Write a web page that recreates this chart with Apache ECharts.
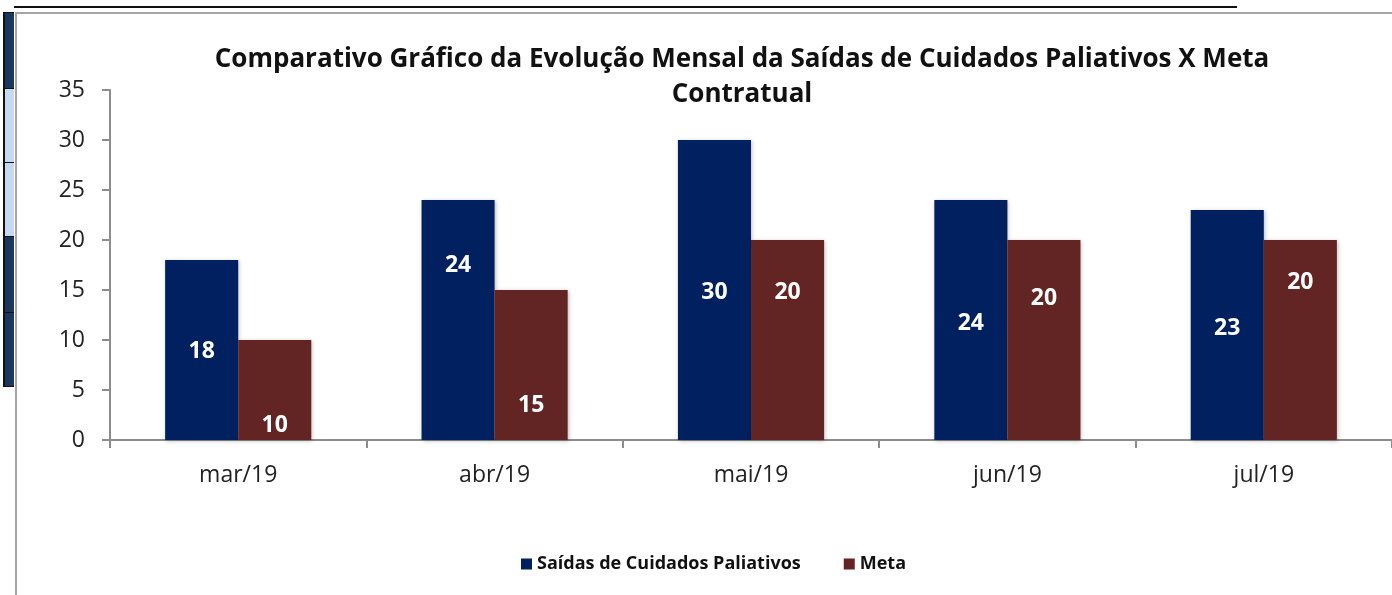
<!DOCTYPE html>
<html>
<head>
<meta charset="utf-8">
<script src="https://cdn.jsdelivr.net/npm/echarts@6/dist/echarts.min.js"></script>
<style>
  html, body { margin: 0; padding: 0; background: #fff; }
  #wrap { position: relative; width: 1392px; height: 595px; overflow: hidden; }
  #topline { position: absolute; left: 14px; top: 6px; width: 1223px; height: 2px; background: #111; }
  #frame { position: absolute; left: 15px; top: 12px; width: 1400px; height: 600px; border: 2px solid #a6a6a6; box-sizing: border-box; }
  .side { position: absolute; left: 3px; width: 9px; border-left: 2px solid #111; border-top: 1px solid #111; }
  #chart { position: absolute; left: 0; top: 0; width: 1392px; height: 595px; }
</style>
</head>
<body>
<div id="wrap">
  <div id="topline"></div>
  <div class="side" style="top:12px;height:76px;background:#1b365f;"></div>
  <div class="side" style="top:88px;height:74px;background:#c6d9ef;"></div>
  <div class="side" style="top:162px;height:74px;background:#c6d9ef;"></div>
  <div class="side" style="top:236px;height:76px;background:#1b365f;"></div>
  <div class="side" style="top:312px;height:73px;background:#1b365f;border-bottom:1px solid #111;"></div>
  <div id="frame"></div>
  <div id="chart"></div>
</div>
<script>
// dados do gráfico
const meses = ['mar/19', 'abr/19', 'mai/19', 'jun/19', 'jul/19']
const saidas = [18, 24, 30, 24, 23]
const meta = [10, 15, 20, 20, 20]

// deslocamento vertical dos rótulos (igual ao original do Excel)
const offSaidas = [1, -55, 2, 3, 3]
const offMeta = [35, 40, -48, -42, -58]

const chart = echarts.init(document.getElementById('chart'))

const labelBase = {
  show: true,
  position: 'inside',
  color: '#fff',
  fontWeight: 'bold',
  fontSize: 23,
  fontFamily: 'Open Sans'
}

const option = {
  animation: false,
  title: {
    text: 'Comparativo Gráfico da Evolução Mensal da Saídas de Cuidados Paliativos X Meta\nContratual',
    left: 737,
    textAlign: 'center',
    top: 37,
    textStyle: {
      fontFamily: 'Open Sans',
      fontWeight: 'bold',
      fontSize: 26,
      lineHeight: 35,
      color: '#111'
    }
  },
  legend: {
    top: 550,
    left: 516,
    itemWidth: 11,
    itemHeight: 11,
    itemGap: 43,
    icon: 'rect',
    textStyle: {
      fontFamily: 'Open Sans',
      fontWeight: 'bold',
      fontSize: 18,
      color: '#111'
    },
    data: ['Saídas de Cuidados Paliativos', 'Meta']
  },
  grid: {
    left: 110,
    right: 0,
    top: 90,
    bottom: 155
  },
  xAxis: {
    type: 'category',
    data: meses,
    axisLine: { lineStyle: { color: '#8c8c8c', width: 2 } },
    axisTick: { show: true, length: 8, lineStyle: { color: '#8c8c8c', width: 2 } },
    axisLabel: {
      margin: 24,
      fontSize: 23,
      fontFamily: 'Open Sans',
      color: '#222'
    }
  },
  yAxis: {
    type: 'value',
    min: 0,
    max: 35,
    interval: 5,
    axisLine: { show: true, lineStyle: { color: '#8c8c8c', width: 2 } },
    axisTick: { show: true, length: 8, lineStyle: { color: '#8c8c8c', width: 2 } },
    splitLine: { show: false },
    axisLabel: {
      margin: 25,
      fontSize: 23,
      fontFamily: 'Open Sans',
      color: '#222'
    }
  },
  series: [
    {
      name: 'Saídas de Cuidados Paliativos',
      type: 'bar',
      barGap: '0%',
      barCategoryGap: '43%',
      itemStyle: { color: '#002060', shadowColor: 'rgba(0,0,0,0.25)', shadowBlur: 4, shadowOffsetX: 1, shadowOffsetY: 1 },
      data: saidas.map((v, i) => ({ value: v, label: { ...labelBase, offset: [0, offSaidas[i]] } }))
    },
    {
      name: 'Meta',
      type: 'bar',
      itemStyle: { color: '#632523', shadowColor: 'rgba(0,0,0,0.25)', shadowBlur: 4, shadowOffsetX: 1, shadowOffsetY: 1 },
      data: meta.map((v, i) => ({ value: v, label: { ...labelBase, offset: [0, offMeta[i]] } }))
    }
  ]
}

chart.setOption(option)
</script>
</body>
</html>
